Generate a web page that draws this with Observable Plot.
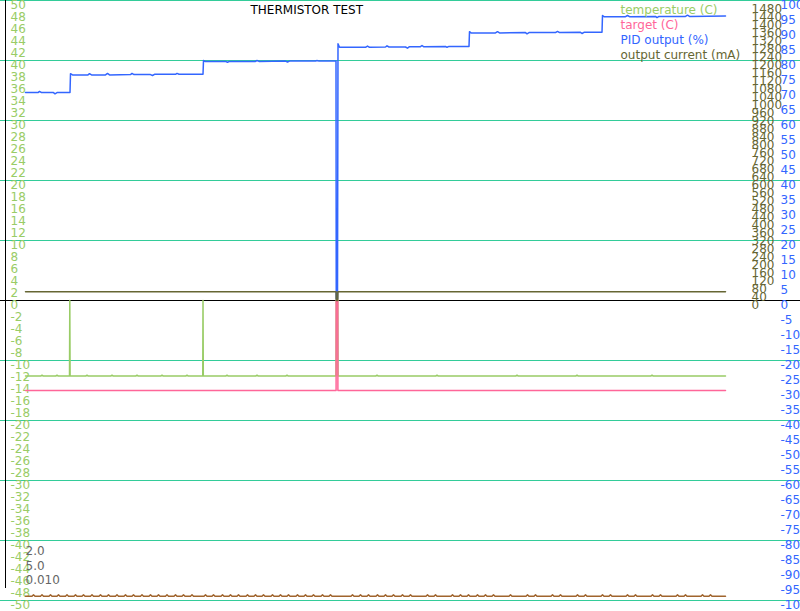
<!DOCTYPE html>
<html><head><meta charset="utf-8">
<script src="https://cdn.jsdelivr.net/npm/d3@7"></script>
<script src="https://cdn.jsdelivr.net/npm/@observablehq/plot@0.6"></script>
<style>html,body{margin:0;padding:0;background:#fff;} svg{display:block}</style>
</head><body><div id="chart"></div>
<script>
// ---- text ----
const title = "THERMISTOR TEST";
const legendLabels = ["temperature (C)", "target (C)", "PID output (%)", "output current (mA)"];
const legendColors = ["#99cc66", "#ff6699", "#3366ff", "#666633"];
const pidGains = ["2.0", "5.0", "0.010"];

// ---- tick labels ----
const tempTicks = d3.range(-50, 51, 2);        // left axis (C)
const pidTicks = d3.range(-100, 101, 5);       // right blue axis (%)
const currentTicks = d3.range(0, 1481, 40);    // right olive axis (mA)
const gridTicks = [-50, -40, -30, -20, -10, 10, 20, 30, 40, 50];

// ---- series: [time (s), value] ----
const temperature = [[0,-12.6],[3,-12.6],[3.3,-12.45],[3.6,-12.6],[6,-12.6],[6.3,-12.45],[6.6,-12.6],[8.8,-12.6],[8.86,0],[8.92,-12.6],
  [12,-12.6],[12.3,-12.45],[12.6,-12.6],[17,-12.6],[17.3,-12.45],[17.6,-12.6],[22,-12.6],[22.3,-12.45],[22.6,-12.6],[27,-12.6],[27.3,-12.45],[27.6,-12.6],
  [32,-12.6],[32.3,-12.45],[32.6,-12.6],[35.45,-12.6],[35.5,0],[35.56,-12.6],[40,-12.6],[40.3,-12.45],[40.6,-12.6],[46,-12.6],[46.3,-12.45],[46.6,-12.6],
  [52,-12.6],[52.3,-12.45],[52.6,-12.6],[58,-12.6],[62.1,-12.6],[62.15,0],[62.45,0],[62.5,-12.6],[70,-12.6],[70.3,-12.45],[70.6,-12.6],
  [82,-12.6],[82.3,-12.45],[82.6,-12.6],[98,-12.6],[98.3,-12.45],[98.6,-12.6],[110,-12.6],[110.3,-12.45],[110.6,-12.6],[125,-12.6],[125.3,-12.45],[125.6,-12.6],[140,-12.6]];
const target = [[0,-15],[62.12,-15],[62.14,0],[62.46,0],[62.48,-15],[140,-15]];
const pidOutput = [[0,69.3],[2.5,69.3],[2.8,69.7],[3.2,69.3],[5.6,69.3],[5.9,68.9],[6.3,69.3],[8.9,69.3],
  [9.0,75.6],[9.4,75.2],[12.5,75.2],[12.8,75.6],[13.2,75.2],[16,75.2],[16.4,75.7],[16.8,75.2],[21,75.3],[21.3,75.7],[21.7,75.3],[25,75.3],[25.4,75.0],[25.8,75.4],[30,75.4],[30.3,75.7],[30.7,75.4],[35.5,75.4],
  [35.6,80.0],[35.9,79.7],[40,79.7],[40.4,79.4],[40.8,79.7],[46,79.7],[46.3,80.0],[46.7,79.7],[52,79.8],[52.4,79.5],[52.8,79.8],[58,79.8],[58.3,80.0],[58.7,79.8],[62.1,79.8],
  [62.15,0.6],[62.4,0.6],[62.5,85.6],[62.8,84.4],[68,84.4],[68.4,84.8],[68.8,84.4],[72,84.5],[72.3,84.9],[72.7,84.5],[76,84.5],[76.4,84.1],[76.8,84.6],[79,84.6],[79.3,85.0],[79.6,84.6],[84,84.7],[84.3,84.4],[84.7,84.7],[88.7,84.7],
  [88.8,89.6],[89.1,89.2],[94,89.2],[94.4,89.6],[94.8,89.2],[100,89.3],[100.3,88.9],[100.7,89.3],[106,89.3],[106.4,89.7],[106.8,89.3],[111,89.4],[111.3,89.0],[111.7,89.4],[115.3,89.4],
  [115.4,95.0],[115.7,94.6],[120,94.6],[120.4,95.0],[120.8,94.6],[126,94.7],[126.3,94.3],[126.7,94.7],[132,94.7],[132.4,95.1],[132.8,94.7],[140,94.8]];
const outputCurrent = [[0,44],[62.12,44],[62.14,0],[62.46,0],[62.48,44],[140,44]];
// unlabeled trace near the bottom: base level and the times of its small bumps
const traceBase = -49.28, tracePeak = -49.05;
const traceBumps = [1.6,3.3,5,6.6,8.3,10,11.6,13.3,15,16.6,18.3,20,21.6,23.3,25,26.6,28.3,30,31.6,33.3,
  36,37.6,39.4,41,42.6,44.4,46,47.6,49.4,51,52.6,54.4,56,57.6,59.4,61,65.4,67,68.6,70.4,72,73.6,75.4,77,80.4,82,85.4,87,88.6,90.4,92,93.6,
  97,100.4,102,105.4,107,110.4,112,115.4,117,120.4,122,125.4,127,130.4,132,135.4,137];

// ---- build tables for the library ----
const toRows = (arr, f = v => v) => arr.map(([t, v]) => ({t, v: f(v)}));
const tempRows = toRows(temperature);
const targetRows = toRows(target);
const pidRows = toRows(pidOutput, p => p / 2);          // % -> left-axis units (100% spans 50)
const currentRows = toRows(outputCurrent, c => c / 30); // mA -> left-axis units (1500 mA spans 50)
const traceRows = [{t: 0, v: traceBase}];
for (const b of traceBumps) traceRows.push({t: b - 0.3, v: traceBase}, {t: b, v: tracePeak}, {t: b + 0.3, v: traceBase});
traceRows.push({t: 140, v: traceBase});

const txt = {fontSize: 12, fontFamily: "DejaVu Sans"};

const chart = Plot.plot({
  width: 800, height: 611,
  marginTop: 0, marginRight: 0, marginBottom: 0, marginLeft: 0,
  style: {fontFamily: "DejaVu Sans", fontSize: "12px", background: "#fff", overflow: "hidden"},
  x: {domain: [-5, 155], range: [0, 800], axis: null},
  y: {domain: [-50, 50], range: [600, 0]},
  marks: [
    Plot.ruleY(gridTicks, {stroke: "#33cc99", strokeWidth: 1}),
    Plot.ruleY([0], {stroke: "#000", strokeWidth: 1}),
    Plot.ruleX([-4], {y1: 51, y2: -48, stroke: "#000", strokeWidth: 1}),
    Plot.axisY(tempTicks, {anchor: "left", tickSize: 0, tickPadding: 0, dx: 10, textAnchor: "start", lineAnchor: "top",
      color: "#99cc66", tickFormat: d => String(d), ...txt, label: null}),
    Plot.axisY(currentTicks.map(c => c / 30), {anchor: "right", tickSize: 0, tickPadding: 0, dx: -49, textAnchor: "start", lineAnchor: "top",
      color: "#666633", tickFormat: d => String(Math.round(d * 30)), ...txt, label: null}),
    Plot.axisY(pidTicks.map(p => p / 2), {anchor: "right", tickSize: 0, tickPadding: 0, dx: -20, textAnchor: "start", lineAnchor: "top",
      color: "#3366ff", tickFormat: d => String(Math.round(d * 2)), ...txt, label: null}),
    Plot.line(tempRows, {x: "t", y: "v", stroke: "#99cc66", strokeWidth: 1.5}),
    Plot.line(targetRows, {x: "t", y: "v", stroke: "#ff6699", strokeWidth: 1.5}),
    Plot.line(pidRows, {x: "t", y: "v", stroke: "#3366ff", strokeWidth: 1.5}),
    Plot.line(currentRows, {x: "t", y: "v", stroke: "#666633", strokeWidth: 1.5}),
    Plot.line(traceRows, {x: "t", y: "v", stroke: "#a0642d", strokeWidth: 1.5}),
    Plot.text([title], {frameAnchor: "top-left", dx: 250, dy: 5, textAnchor: "start", lineAnchor: "top", fill: "#000", ...txt}),
    ...legendLabels.map((l, i) => Plot.text([l], {frameAnchor: "top-left", dx: 620, dy: 5 + 15 * i, textAnchor: "start", lineAnchor: "top", fill: legendColors[i], ...txt})),
    ...pidGains.map((g, i) => Plot.text([g], {frameAnchor: "top-left", dx: 25, dy: 546 + 14.5 * i, textAnchor: "start", lineAnchor: "top", fill: "#666", ...txt}))
  ]
});
document.getElementById("chart").appendChild(chart);
</script>
</body></html>
